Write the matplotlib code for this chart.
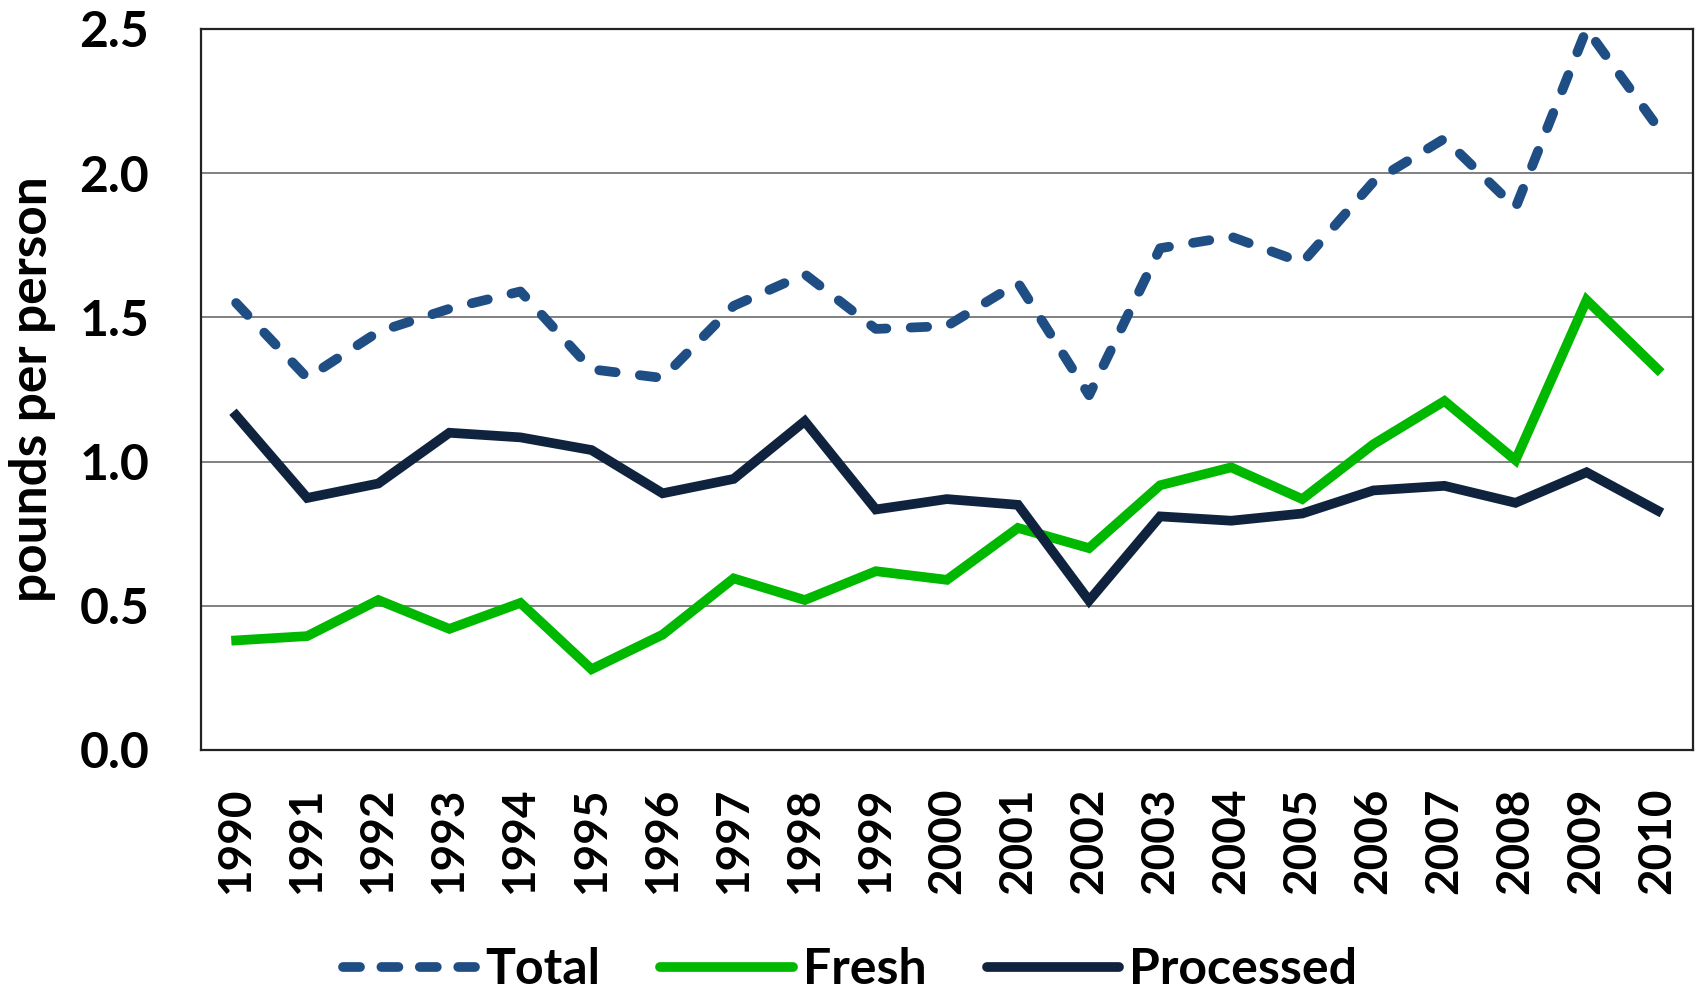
import matplotlib
matplotlib.use("Agg")
import matplotlib.pyplot as plt
from matplotlib.lines import Line2D

years = [str(y) for y in range(1990, 2011)]
total = [1.55, 1.29, 1.45, 1.53, 1.59, 1.32, 1.29, 1.54, 1.65, 1.46, 1.47,
         1.62, 1.23, 1.74, 1.78, 1.69, 1.97, 2.12, 1.88, 2.50, 2.16]
fresh = [0.38, 0.395, 0.52, 0.42, 0.51, 0.28, 0.40, 0.595, 0.52, 0.62, 0.59,
         0.77, 0.70, 0.918, 0.98, 0.87, 1.06, 1.21, 1.005, 1.56, 1.32]
processed = [1.16, 0.874, 0.924, 1.10, 1.084, 1.04, 0.89, 0.94, 1.14, 0.834, 0.87,
             0.85, 0.518, 0.81, 0.795, 0.82, 0.90, 0.916, 0.857, 0.963, 0.83]
yticks = [0.0, 0.5, 1.0, 1.5, 2.0, 2.5]
ytick_labels = ["0.0", "0.5", "1.0", "1.5", "2.0", "2.5"]
series_names = ["Total", "Fresh", "Processed"]

c_total = "#1F4E85"
c_fresh = "#00B800"
c_proc = "#0F233F"

fig = plt.figure(figsize=(17, 10), dpi=100)
ax = fig.add_axes([0.118, 0.25, 0.878, 0.721])

x = list(range(len(years)))
ax.plot(x, total, color=c_total, lw=7, dashes=(1.7, 2.5), dash_capstyle="round",
        solid_joinstyle="round", zorder=3)
ax.plot(x, fresh, color=c_fresh, lw=7, solid_joinstyle="miter", zorder=3)
ax.plot(x, processed, color=c_proc, lw=7, solid_joinstyle="miter", zorder=4)

ax.set_xlim(-0.5, len(years) - 0.5)
ax.set_ylim(0, 2.5)
ax.set_yticks(yticks)
ax.set_yticklabels(ytick_labels, fontfamily="Lato", fontweight="bold", fontsize=36)
ax.set_xticks(x)
ax.set_xticklabels(years, rotation=90, fontfamily="Lato", fontweight="bold", fontsize=33)
ax.tick_params(axis="both", length=0)
ax.tick_params(axis="y", pad=37)
ax.tick_params(axis="x", pad=27)
ax.yaxis.grid(True, color="#808080", lw=1.4)
ax.set_axisbelow(True)
for s in ax.spines.values():
    s.set_color("#222222")
    s.set_linewidth(1.6)

ax.set_ylabel("pounds per person", fontfamily="Lato", fontweight="bold", fontsize=37)
ax.yaxis.set_label_coords(-0.097, 0.5)

handles = [
    Line2D([], [], color=c_total, lw=7, dashes=(1.75, 2.2), dash_capstyle="round"),
    Line2D([], [], color=c_fresh, lw=7, solid_capstyle="round"),
    Line2D([], [], color=c_proc, lw=7, solid_capstyle="round"),
]
fig.legend(handles, series_names, loc="center", bbox_to_anchor=(0.5, 0.03),
           ncol=3, frameon=False, handlelength=2.65, handletextpad=0.2,
           columnspacing=1.2, prop={"family": "Lato", "weight": "bold", "size": 36})

fig.savefig("out.png", dpi=100)
